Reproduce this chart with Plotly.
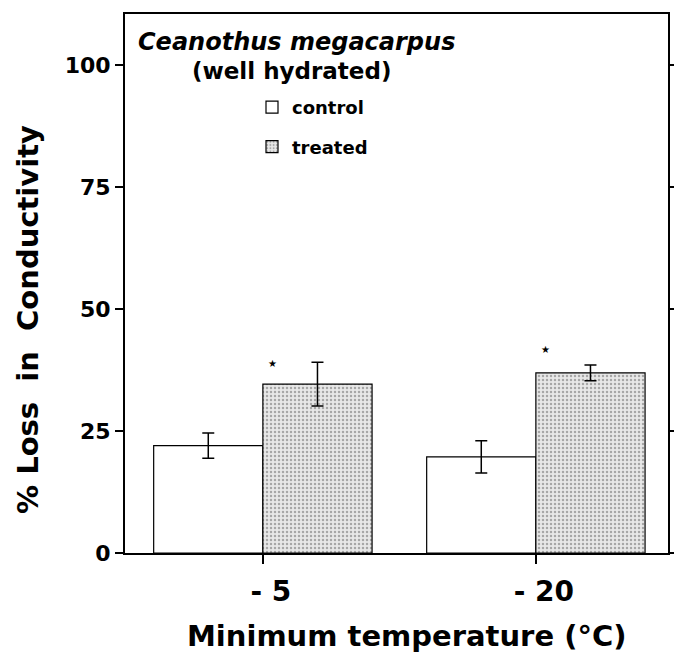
import plotly.graph_objects as go

categories = ["- 5", "- 20"]
control = [22.0, 19.7]
control_err = [2.6, 3.3]
treated = [34.6, 36.9]
treated_err = [4.5, 1.6]
sig_y = [38.9, 41.6]
y_ticks = [0, 25, 50, 75, 100]

BOLD = "DejaVu Sans"

W, H = 674, 658
L, R, T, B = 125, 6, 14, 105
pw, ph = W - L - R, H - T - B

def px(x): return (x - L) / pw
def py(y): return (H - B - y) / ph

fig = go.Figure()
fig.add_trace(go.Bar(
    x=categories, y=control, name="control", legendgroup="c",
    marker=dict(color="white", line=dict(color="black", width=1.2)),
    error_y=dict(type="data", array=control_err, color="black", thickness=1.5, width=6),
))
fig.add_trace(go.Bar(
    x=categories, y=treated, name="treated", legendgroup="t",
    marker=dict(color="#e8e8e8", line=dict(color="black", width=1.2),
                pattern=dict(shape=".", fgcolor="#666666", bgcolor="#e8e8e8", size=4, solidity=0.3)),
    error_y=dict(type="data", array=treated_err, color="black", thickness=1.5, width=6),
))

for c, sy in zip(categories, sig_y):
    fig.add_annotation(x=c, y=sy, xref="x", yref="y", text="★", showarrow=False,
                       xshift=10, font=dict(size=10, color="black", family=BOLD))
fig.add_annotation(x=px(296), y=py(42), xref="paper", yref="paper",
                   text="<i>Ceanothus megacarpus</i>", showarrow=False,
                   xanchor="center", yanchor="middle",
                   font=dict(size=24, family=BOLD, color="black", weight="bold"))
fig.add_annotation(x=px(291), y=py(71), xref="paper", yref="paper",
                   text="(well hydrated)", showarrow=False,
                   xanchor="center", yanchor="middle",
                   font=dict(size=23, family=BOLD, color="black", weight="bold"))
fig.add_annotation(x=px(406), y=py(636), xref="paper", yref="paper",
                   text="Minimum temperature (°C)", showarrow=False,
                   xanchor="center", yanchor="middle",
                   font=dict(size=29, family=BOLD, color="black", weight="bold"))
fig.add_annotation(x=px(28), y=py(320), xref="paper", yref="paper",
                   text="% Loss  in  Conductivity", showarrow=False, textangle=-90,
                   xanchor="center", yanchor="middle",
                   font=dict(size=29, family=BOLD, color="black", weight="bold"))

fig.update_layout(
    width=W, height=H,
    margin=dict(l=L, r=R, t=T, b=B, autoexpand=False),
    paper_bgcolor="white", plot_bgcolor="white",
    barmode="group", bargap=0.2, bargroupgap=0,
    showlegend=True,
    legend=dict(x=px(252), y=py(89), xanchor="left", yanchor="top",
                bgcolor="rgba(0,0,0,0)", traceorder="grouped", tracegroupgap=13,
                font=dict(size=18, family=BOLD, color="black", weight="bold"),
                itemclick=False),
    font=dict(family=BOLD, color="black"),
)
fig.update_xaxes(
    type="category", range=[-0.505, 1.484], automargin=False,
    showline=True, linecolor="black", linewidth=2, mirror=True,
    ticks="outside", ticklen=9, tickwidth=1.5, tickcolor="black",
    tickfont=dict(size=28, family=BOLD, color="black", weight="bold"),
    ticklabelshift=8, ticklabelstandoff=3,
    showgrid=False, zeroline=False,
)
fig.update_yaxes(
    range=[0, 110.45], tickvals=y_ticks, ticktext=[str(v) for v in y_ticks], automargin=False,
    showline=True, linecolor="black", linewidth=2, mirror="ticks",
    ticks="outside", ticklen=8, tickwidth=1.5, tickcolor="black",
    tickfont=dict(size=22, family=BOLD, color="black", weight="bold"),
    showgrid=False, zeroline=False,
)
fig.write_html("out.html")
